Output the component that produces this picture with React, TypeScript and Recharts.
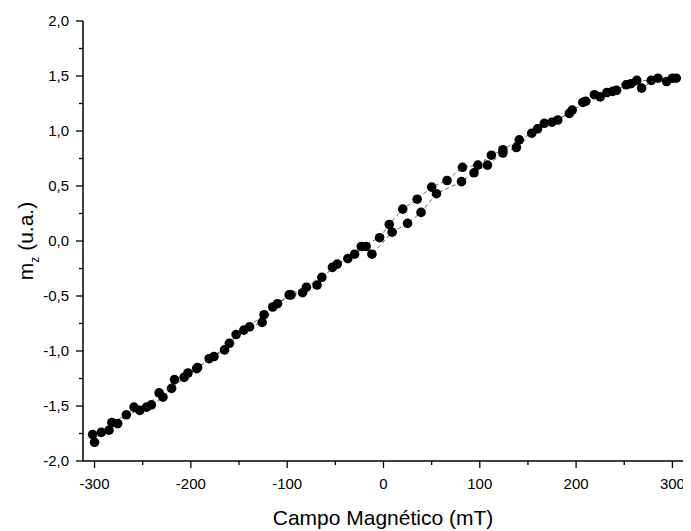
import React from "react";
import { ScatterChart, Scatter, XAxis, YAxis } from "recharts";

// ramo 1 (campo em mT, m_z em u.a.)
const campoA = [-302, -285, -276, -259, -246, -233, -220, -207, -194, -181, -165, -153, -139, -126, -110, -96, -84, -69, -53, -37, -23, -4, 6, 20, 35, 50, 66, 82, 98, 112, 124, 141, 154, 167, 181, 196, 207, 219, 232, 242, 252, 263, 278, 294, 304];
const mzA = [-1.76, -1.72, -1.66, -1.51, -1.51, -1.38, -1.34, -1.24, -1.16, -1.07, -0.99, -0.85, -0.78, -0.74, -0.57, -0.49, -0.47, -0.4, -0.24, -0.16, -0.05, 0.03, 0.15, 0.29, 0.38, 0.49, 0.55, 0.67, 0.69, 0.78, 0.83, 0.92, 0.98, 1.07, 1.1, 1.19, 1.26, 1.33, 1.35, 1.37, 1.42, 1.46, 1.46, 1.45, 1.48];

// ramo 2
const campoB = [-300, -293, -282, -267, -253, -241, -229, -217, -203, -193, -176, -160, -145, -124, -115, -98, -80, -64, -48, -30, -18, -12, 9, 25, 39, 55, 81, 94, 108, 124, 138, 160, 175, 193, 210, 225, 238, 257, 268, 285, 300];
const mzB = [-1.83, -1.74, -1.65, -1.58, -1.54, -1.49, -1.42, -1.26, -1.2, -1.15, -1.05, -0.93, -0.81, -0.67, -0.6, -0.49, -0.42, -0.33, -0.21, -0.12, -0.05, -0.12, 0.08, 0.16, 0.26, 0.43, 0.54, 0.62, 0.69, 0.8, 0.85, 1.02, 1.08, 1.16, 1.27, 1.31, 1.36, 1.43, 1.39, 1.48, 1.48];

const xTicks = [-300, -250, -200, -150, -100, -50, 0, 50, 100, 150, 200, 250, 300];
const yTicks = [-2, -1.75, -1.5, -1.25, -1, -0.75, -0.5, -0.25, 0, 0.25, 0.5, 0.75, 1, 1.25, 1.5, 1.75, 2];

const ramoA = campoA.map((c, i) => ({ campo: c, mz: mzA[i] }));
const ramoB = campoB.map((c, i) => ({ campo: c, mz: mzB[i] }));

const FONT = "'Liberation Sans', Arial, sans-serif";

const fmt = (v: number) => v.toFixed(1).replace(".", ",");

function XTick(props: any) {
  const { x, y, payload } = props;
  const major = payload.value % 100 === 0;
  return (
    <g>
      <line x1={x} y1={y} x2={x} y2={y + (major ? 7 : 4)} stroke="#000" strokeWidth={1.3} />
      {major && (
        <text x={x} y={y + 28} textAnchor="middle" fontSize={15} fontFamily={FONT} fill="#000">
          {payload.value}
        </text>
      )}
    </g>
  );
}

function YTick(props: any) {
  const { x, y, payload } = props;
  const major = Math.abs((payload.value * 2) % 1) < 1e-6;
  return (
    <g>
      <line x1={x} y1={y} x2={x - (major ? 7 : 4)} y2={y} stroke="#000" strokeWidth={1.3} />
      {major && (
        <text x={x - 14} y={y + 5} textAnchor="end" fontSize={15} fontFamily={FONT} fill="#000">
          {fmt(payload.value)}
        </text>
      )}
    </g>
  );
}

const dot = (p: any) => <circle cx={p.cx} cy={p.cy} r={4.8} fill="#000" />;

const lineStyle = { stroke: "#444", strokeWidth: 0.8, strokeDasharray: "4 3" };

export default function App() {
  return (
    <ScatterChart width={683} height={523} margin={{ top: 13, right: 8, left: 0, bottom: 0 }} style={{ background: "#fff" }}>
      <XAxis
        type="number"
        dataKey="campo"
        domain={[-312, 311]}
        ticks={xTicks}
        interval={0}
        tickSize={0}
        tickMargin={0}
        tickLine={false}
        tick={<XTick />}
        axisLine={{ stroke: "#000", strokeWidth: 1.5 }}
        height={70}
        label={(p: any) => {
          const vb = p.viewBox;
          return (
            <text x={vb.x + vb.width / 2} y={517} textAnchor="middle" fontSize={21} fontFamily={FONT} fill="#000">
              Campo Magnético (mT)
            </text>
          );
        }}
      />
      <YAxis
        type="number"
        dataKey="mz"
        domain={[-2, 2]}
        ticks={yTicks}
        interval={0}
        tickSize={0}
        tickMargin={0}
        tickLine={false}
        tick={<YTick />}
        axisLine={{ stroke: "#000", strokeWidth: 1.5 }}
        width={75}
        label={(p: any) => {
          const vb = p.viewBox;
          const cx = 25;
          const cy = vb.y + vb.height / 2;
          return (
            <text
              transform={`translate(${cx},${cy}) rotate(-90)`}
              textAnchor="middle"
              fontSize={21}
              fontFamily={FONT}
              fill="#000"
            >
              m<tspan fontSize={12} dy={6}>z</tspan>
              <tspan dy={-6}> (u.a.)</tspan>
            </text>
          );
        }}
      />
      <Scatter data={ramoA} line={lineStyle} lineType="joint" shape={dot} isAnimationActive={false} />
      <Scatter data={ramoB} line={lineStyle} lineType="joint" shape={dot} isAnimationActive={false} />
    </ScatterChart>
  );
}
